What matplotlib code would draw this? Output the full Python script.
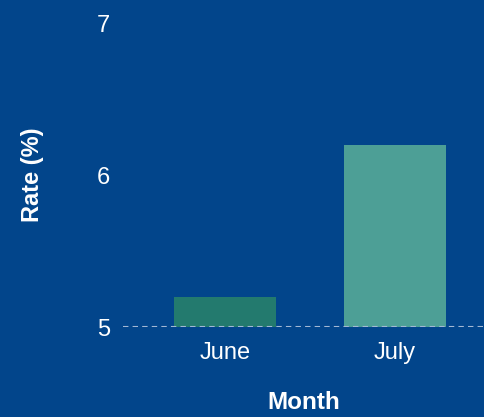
import matplotlib
matplotlib.use("Agg")
import matplotlib.pyplot as plt

months = ["June", "July"]
rates = [5.2, 6.2]
bar_colors = ["#237a6e", "#4d9f96"]
yticks = [5, 6, 7]

bg = "#02458b"
plt.rcParams['font.family'] = ['Liberation Sans', 'DejaVu Sans']

fig = plt.figure(figsize=(4.85, 4.17), dpi=100, facecolor=bg)
ax = fig.add_axes([123/485, (417-327)/417, (485-123)/485, (327-23)/417])
ax.set_facecolor(bg)

x = list(range(len(months)))
base = 5
ax.bar(x, [r - base for r in rates], bottom=base, width=0.6, color=bar_colors, zorder=2)
ax.axhline(base, color="#a3b8d4", linestyle=(0, (2.6, 2.0)), linewidth=1.5, zorder=3)

ax.set_xlim(-0.6, 1.53)
ax.set_ylim(5, 7)
ax.set_yticks(yticks)
ax.set_yticklabels([str(t) for t in yticks])
ax.set_xticks(x)
ax.set_xticklabels(months)
for s in ax.spines.values():
    s.set_visible(False)
ax.tick_params(axis='both', length=0, colors='white', labelsize=17)
ax.tick_params(axis='y', pad=9)
ax.tick_params(axis='x', pad=11)
for lab in ax.get_yticklabels():
    lab.set_verticalalignment('center_baseline')

ax.set_xlabel("Month", color="white", fontsize=17.5, fontweight="bold", labelpad=19)
ax.set_ylabel("Rate (%)", color="white", fontsize=17, fontweight="bold", labelpad=38)

fig.savefig("out.png", dpi=100, facecolor=bg)
